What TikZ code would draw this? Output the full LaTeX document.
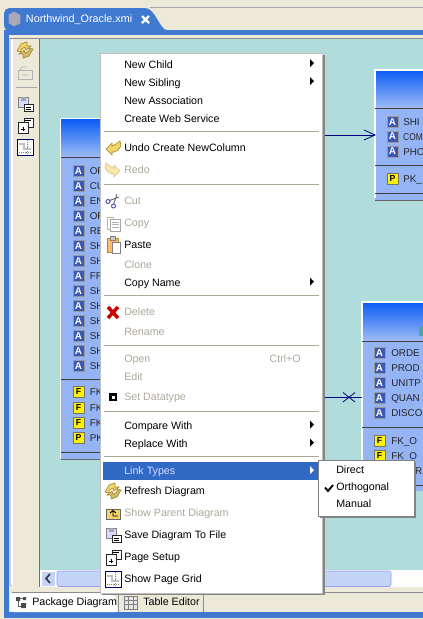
\documentclass[tikz,border=0pt]{standalone}
\usepackage{xcolor}
\usepackage{fontspec}
\setmainfont{Liberation Sans}
\usetikzlibrary{positioning, calc}
\definecolor{winbeige}{HTML}{ECE9D8}
\definecolor{winblue}{HTML}{4079D0}
\definecolor{canvasteal}{HTML}{B0DCDC}
\definecolor{tablebody}{HTML}{94B4F6}
\definecolor{tabletop}{HTML}{0A5CF5}
\definecolor{menuhigh}{HTML}{316AC5}
\definecolor{menuline}{HTML}{ACA899}
\definecolor{greytext}{HTML}{ACA899}
\definecolor{linkblue}{HTML}{000080}
\definecolor{iconyellow}{HTML}{F2D56B}
\definecolor{iconedge}{HTML}{A98A2C}
\definecolor{scrollblue}{HTML}{C3D4F7}
\definecolor{attrblue}{HTML}{3A58B4}
\tikzset{
  menuitem/.style={anchor=west, inner sep=0pt, text height=7.4pt, text depth=1.7pt, font=\fontsize{8}{10}\selectfont},
  menuoff/.style={menuitem, text=greytext},
  rowtext/.style={menuitem, text=black!85, font=\fontsize{7.4}{10}\selectfont},
  dbtable/.style={rectangle, anchor=north west, inner sep=0pt, outer sep=0pt, fill=tablebody},
  tablehead/.style={rectangle, anchor=north west, inner sep=0pt, outer sep=0pt, top color=tabletop, bottom color=tablebody!90!white},
  attr/.style={rectangle, draw=black!40, fill=attrblue, text=white, inner sep=0pt, minimum size=8pt, font=\fontsize{7.4}{7}\bfseries\selectfont},
  fkey/.style={rectangle, draw=black!55, fill=yellow, text=black, inner sep=0pt, minimum size=8pt, font=\fontsize{6.5}{7}\bfseries\selectfont},
  menubox/.style={rectangle, anchor=north west, inner sep=0pt, outer sep=0pt, fill=white, draw=black!25},
  toolicon/.style={rectangle, inner sep=0pt, outer sep=0pt},
  undoicon/.pic={\filldraw[fill=iconyellow, draw=iconedge, line width=.5pt] (-7,1)--(-1,-5)--(-1,-2)--(3,-4)--(7,-7)--(8,-2)--(5,2)--(1,4)--(-1,4)--(-1,7)--cycle;},
  redoicon/.pic={\filldraw[fill=iconyellow!60, draw=iconedge!50, line width=.5pt] (7,1)--(1,-5)--(1,-2)--(-3,-4)--(-7,-7)--(-8,-2)--(-5,2)--(-1,4)--(1,4)--(1,7)--cycle;},
  refreshicon/.pic={\filldraw[fill=iconyellow, draw=iconedge, line width=.5pt] (-8,1)--(-4,-6)--(2,-8)--(2,-4)--(6,-4)--(1,0)--(0,-3)--(-4,-1)--(-4,2)--cycle;
    \filldraw[fill=iconyellow!70!gray, draw=iconedge, line width=.5pt] (8,-1)--(4,6)--(-2,8)--(-2,4)--(-6,4)--(-1,0)--(0,3)--(4,1)--(4,-2)--cycle;},
  saveicon/.pic={\filldraw[fill=blue!15, draw=black!50, line width=.5pt] (-7,-7) rectangle (3,3);
    \fill[black!35] (-4,-7) rectangle (1,-3);
    \filldraw[fill=white, draw=black!85, line width=.5pt] (-1,0) rectangle (8,7);
    \draw[line width=.5pt] (1,3)--(6,3) (1,5)--(6,5);},
  pageicon/.pic={\filldraw[fill=white, draw=black!85, line width=.5pt] (-1,-7) rectangle (8,2);
    \filldraw[fill=white, draw=black!85, line width=.5pt] (-7,-3) rectangle (3,8);
    \draw[black, line width=.7pt] (0,-5)--(6,-5) (-4,4)--(0,4) (-2,2)--(-2,6);},
  gridicon/.pic={\filldraw[fill=white, draw=blue!40!black, line width=.6pt] (-8,-8) rectangle (8,8);
    \draw[black!50, line width=.4pt, densely dotted] (-6,5)--(6,5) (2,-7)--(2,7);
    \draw[black!25, line width=1.2pt] (-6,-3)--(-1,-3)--(-1,2)--(6,2);},
  submark/.pic={\fill (-2,-4)--(2,0)--(-2,4)--cycle;}
}
\begin{document}
\begin{tikzpicture}[x=0.75pt, y=-0.75pt]
\useasboundingbox (0,0) rectangle (423,619);
% Window frame
\fill[winbeige] (0,0) rectangle (423,619);
\draw[black!35] (150,7) -- (423,7);
\fill[winblue] (4,30) rectangle (423,35);
\fill[winblue] (4,30) rectangle (9,618);
\fill[winblue] (4,612) rectangle (423,618);
\fill[winblue, rounded corners=4pt] (4,31) -- (4,8) -- (140,8) .. controls (155,8) and (160,30) .. (172,30) -- cycle;
\node[toolicon, text=white, font=\fontsize{8.1}{10}\selectfont, anchor=west] (filetitle) at (26,20) {Northwind\_Oracle.xmi};
\draw[white, line width=1.8pt] (142,16) -- (149,23) (149,16) -- (142,23);
\filldraw[fill=blue!12!gray!60, draw=black!35, line width=.5pt] (9,15) -- (14,12) -- (20,15) -- (20,23) -- (14,26) -- (9,23) -- cycle;
\fill[white] (10,38.5) rectangle (12.5,588);
\draw[black!45] (10,38) -- (423,38);
\draw[black!45] (12,587) -- (10,585) -- (10,38);
% Canvas
\fill[canvasteal] (40,39) rectangle (423,570);
\draw[black!55] (39.5,39) -- (39.5,587);
% Toolbar
\pic at (25,50) {refreshicon};
\filldraw[fill=winbeige, draw=black!30, line width=.5pt] (18,70) rectangle (32,79);
\draw[black!30, line width=.5pt] (20,70) -- (22,67) -- (27,67) (22,75) -- (28,75);
\draw[black!35] (16,87.5) -- (37,87.5);
\pic at (25,104) {saveicon};
\pic at (25,125) {pageicon};
\pic at (25,147) {gridicon};
% Scroll bar
\fill[white!90!winbeige] (40,570) rectangle (423,587);
\draw[black!45] (12,592) -- (423,592);
\filldraw[fill=scrollblue, draw=white] (41,571) rectangle (55,586);
\draw[black!80, line width=1.2pt] (50,574) -- (46,578.5) -- (50,583);
\filldraw[fill=scrollblue, draw=white!60!blue, rounded corners=1.5pt] (57,571) rectangle (391,586.5);
% Package tab
\fill[white, rounded corners=2pt] (10,612) -- (10,593) -- (114,593) -- (118,612) -- cycle;
\draw[black!45] (118,612) -- (118,594) -- (203,594) -- (203,612);
\node[menuitem] (packagetab) at (32,602) {Package Diagram};
\node[menuitem] (editortab) at (143,602) {Table Editor};
\fill[black!70] (16,597) rectangle (20,601) (23,597) rectangle (26,600) (21,603) rectangle (26,608);
\draw[black!60, line width=.4pt] (18,601) -- (18,606) -- (21,606) (20,598.5) -- (23,598.5);
\filldraw[fill=black!10, draw=black!50, line width=.5pt] (124,596) rectangle (137,609);
\draw[black!50, line width=.4pt] (124,600)--(137,600) (124,604.5)--(137,604.5) (128.5,596)--(128.5,609) (133,596)--(133,609);
% Left table
\node[dbtable, minimum width=105pt, minimum height=255pt] (ordertbl) at (61,119) {};
\node[tablehead, minimum width=105pt, minimum height=28.5pt] (orderhead) at (61,119) {};
\draw[white, line width=.8pt] (60.5,458) -- (60.5,118.5) -- (200,118.5);
\draw[black!75] (61,157) -- (200,157);
\draw[black!75] (61,379) -- (200,379);
\draw[black!75] (61,452) -- (200,452);
\draw[black!60] (61,459.5) -- (200,459.5);
\node[attr] (oa) at (78.5,171) {A}; \node[rowtext] at (89.5,171) {OF};
\node[attr] (ob) at (78.5,186) {A}; \node[rowtext] at (89.5,186) {CU};
\node[attr] (oc) at (78.5,201) {A}; \node[rowtext] at (89.5,201) {EN};
\node[attr] (od) at (78.5,216) {A}; \node[rowtext] at (89.5,216) {OF};
\node[attr] (oe) at (78.5,231) {A}; \node[rowtext] at (89.5,231) {RE};
\node[attr] (of) at (78.5,246) {A}; \node[rowtext] at (89.5,246) {SH};
\node[attr] (og) at (78.5,261) {A}; \node[rowtext] at (89.5,261) {SH};
\node[attr] (oh) at (78.5,276) {A}; \node[rowtext] at (89.5,276) {FR};
\node[attr] (oi) at (78.5,291) {A}; \node[rowtext] at (89.5,291) {SH};
\node[attr] (oj) at (78.5,306) {A}; \node[rowtext] at (89.5,306) {SH};
\node[attr] (ok) at (78.5,321) {A}; \node[rowtext] at (89.5,321) {SH};
\node[attr] (ol) at (78.5,336) {A}; \node[rowtext] at (89.5,336) {SH};
\node[attr] (om) at (78.5,351) {A}; \node[rowtext] at (89.5,351) {SH};
\node[attr] (on) at (78.5,366) {A}; \node[rowtext] at (89.5,366) {SH};
\node[fkey] (fa) at (78.5,392) {F}; \node[rowtext] at (89.5,392) {FK};
\node[fkey] (fb) at (78.5,408) {F}; \node[rowtext] at (89.5,408) {FK};
\node[fkey] (fc) at (78.5,423) {F}; \node[rowtext] at (89.5,423) {FK};
\node[fkey] (fd) at (78.5,438) {P}; \node[rowtext] at (89.5,438) {PK};
% Upper right table
\node[dbtable, minimum width=36pt, minimum height=97.5pt] (shiptbl) at (375,70) {};
\node[tablehead, minimum width=36pt, minimum height=28.5pt] (shiphead) at (375,70) {};
\draw[white, line width=.8pt] (375,198) -- (375,70) -- (423,70);
\draw[black!75] (375,108) -- (423,108);
\draw[black!75] (375,165) -- (423,165);
\draw[black!75] (375,193) -- (423,193);
\draw[black!60] (375,200) -- (423,200);
\node[attr] (sa) at (392.5,122) {A}; \node[rowtext] at (403,122) {SHI};
\node[attr] (sb) at (392.5,136.5) {A}; \node[rowtext, xscale=.85] at (403,136.5) {COM};
\node[attr] (sc) at (392.5,151.5) {A}; \node[rowtext] at (403,151.5) {PHO};
\node[fkey] (sd) at (392.5,179) {P}; \node[rowtext] at (403,179) {PK\_};
% Lower right table
\node[dbtable, minimum width=46pt, minimum height=142pt] (detailtbl) at (362,302) {};
\node[tablehead, minimum width=46pt, minimum height=29pt] (detailhead) at (362,302) {};
\draw[white, line width=.8pt] (362,490) -- (362,302) -- (423,302);
\fill[teal!70] (419,326) rectangle (423,336);
\draw[black!75] (362,341) -- (423,341);
\draw[black!75] (362,427) -- (423,427);
\draw[black!75] (362,485) -- (423,485);
\node[attr] (da) at (379.5,353) {A}; \node[rowtext] at (391,353) {ORDE};
\node[attr] (db) at (379.5,368) {A}; \node[rowtext] at (391,368) {PROD};
\node[attr] (dc) at (379.5,383) {A}; \node[rowtext] at (391,383) {UNITP};
\node[attr] (dd) at (379.5,398) {A}; \node[rowtext] at (391,398) {QUAN};
\node[attr] (de) at (379.5,413) {A}; \node[rowtext] at (391,413) {DISCO};
\node[fkey] (df) at (379.5,441) {F}; \node[rowtext] at (391,441) {FK\_O};
\node[fkey] (dg) at (379.5,456) {F}; \node[rowtext] at (391,456) {FK\_O};
\node[rowtext, anchor=east] (dh) at (422.5,471) {OR};
% Links between the tables
\coordinate (shipin) at (375,135);
\coordinate (detailin) at (362,397);
\draw[linkblue, line width=.7pt] (ordertbl.east |- shipin) -- (shipin);
\draw[linkblue, line width=.6pt] (364,130) -- (shipin) -- (364,140);
\draw[linkblue, line width=.7pt] (ordertbl.east |- detailin) -- (detailin);
\draw[linkblue, line width=.6pt] (343,392.5) -- (355,402) (343,402) -- (355,392.5);
% Popup menu
\fill[black!48] (102,55) rectangle (324.5,595);
\node[menubox, minimum width=166.5pt, minimum height=405pt] (popup) at (100,53) {};
\fill[menuhigh] (103,462) rectangle (321,480);
\draw[menuline] (104,131) -- (319,131);
\draw[menuline] (104,184) -- (319,184);
\draw[menuline] (104,295) -- (319,295);
\draw[menuline] (104,345) -- (319,345);
\draw[menuline] (104,411) -- (319,411);
\draw[menuline] (104,456) -- (319,456);
\node[menuitem] (newchild) at (124,65) {New Child};
\node[menuitem] (newsibling) at (124,83) {New Sibling};
\node[menuitem] (newassoc) at (124,101) {New Association};
\node[menuitem] (webservice) at (124,119) {Create Web Service};
\node[menuitem] (undo) at (124,148) {Undo Create NewColumn};
\node[menuoff] (redo) at (124,170) {Redo};
\node[menuoff] (cut) at (124,201) {Cut};
\node[menuoff] (copy) at (124,223) {Copy};
\node[menuitem] (paste) at (124,245) {Paste};
\node[menuoff] (clone) at (124,265) {Clone};
\node[menuitem] (copyname) at (124,283) {Copy Name};
\node[menuoff] (delete) at (124,312) {Delete};
\node[menuoff] (rename) at (124,332) {Rename};
\node[menuoff] (open) at (124,359) {Open};
\node[menuoff, anchor=east] (ctrlo) at (301,359) {Ctrl+O};
\node[menuoff] (edit) at (124,377) {Edit};
\node[menuoff] (datatype) at (124,397) {Set Datatype};
\node[menuitem] (compare) at (124,426) {Compare With};
\node[menuitem] (replace) at (124,444) {Replace With};
\node[menuitem, text=white!85!blue] (linktypes) at (124,471) {Link Types};
\node[menuitem] (refresh) at (124,491) {Refresh Diagram};
\node[menuoff] (parent) at (124,513) {Show Parent Diagram};
\node[menuitem] (savefile) at (124,535) {Save Diagram To File};
\node[menuitem] (setup) at (124,557) {Page Setup};
\node[menuitem] (pagegrid) at (124,579) {Show Page Grid};
\pic at (312,63) {submark};
\pic at (312,81) {submark};
\pic at (312,281.5) {submark};
\pic at (312,424.5) {submark};
\pic at (312,442.5) {submark};
\pic[white] at (312,470) {submark};
% Menu icons
\pic at (113,148) {undoicon};
\pic at (113,170) {redoicon};
\draw[black!60, line width=.7pt] (109.5,200.5) -- (119,197) (113.5,204.5) -- (117,194);
\filldraw[fill=white, draw=blue!40!gray, line width=.7pt] (108,201.5) circle (2) (113.5,206) circle (2);
\filldraw[fill=white, draw=iconedge!60, line width=.5pt] (107,217) rectangle (113,229);
\filldraw[fill=white, draw=black!35, line width=.5pt] (110.5,219) rectangle (120,231);
\draw[black!30, line width=.4pt] (112,222)--(118.5,222) (112,224.5)--(118.5,224.5) (112,227)--(118.5,227);
\filldraw[fill=orange!55, draw=iconedge, line width=.5pt] (107,238) rectangle (118,252);
\filldraw[fill=black!20, draw=black!50, line width=.5pt] (110,236) rectangle (115,240);
\filldraw[fill=white, draw=black!50, line width=.5pt] (112,242) rectangle (120,253);
\draw[red!80!black, line width=2.6pt] (108,307) -- (118,318) (118,307) -- (108,318);
\fill[black] (109,393) rectangle (117,401);
\fill[white] (111.5,395.5) rectangle (114.5,398.5);
\pic at (113,491) {refreshicon};
\filldraw[fill=iconyellow, draw=black!60, line width=.5pt] (106,509) rectangle (120,519);
\draw[black, line width=.7pt] (110,513) -- (113,510.5) -- (116,513) (113,511) -- (113,516) -- (118,516);
\pic at (113,535) {saveicon};
\pic at (113,557) {pageicon};
\pic at (113,579) {gridicon};
% Submenu
\fill[black!48] (320,462) rectangle (416,518);
\node[menubox, draw=black!50, minimum width=72pt, minimum height=42pt] (linkmenu) at (318,460) {};
\node[menuitem] (direct) at (336,470) {Direct};
\node[menuitem] (orthogonal) at (336,487) {Orthogonal};
\node[menuitem] (manual) at (336,504) {Manual};
\draw[black, line width=1.4pt] (325,487.5) -- (328,491) -- (333,485);
\end{tikzpicture}
\end{document}
